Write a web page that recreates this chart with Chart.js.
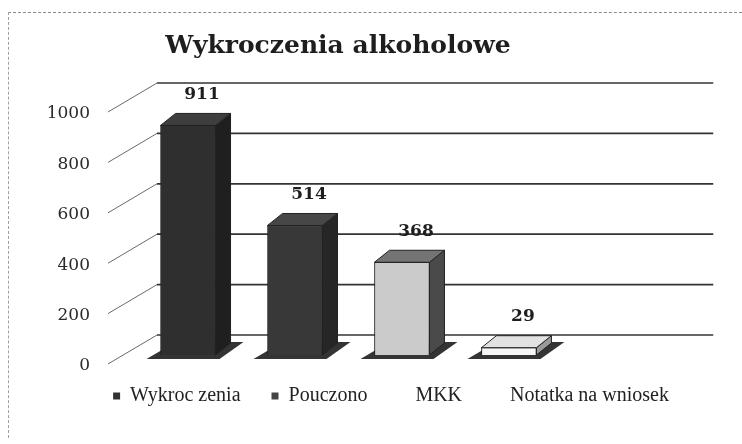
<!DOCTYPE html>
<html>
<head>
<meta charset="utf-8">
<script src="https://cdn.jsdelivr.net/npm/chart.js"></script>
<style>
  body { margin: 0; background: #fff; }
  #wrap { position: relative; width: 742px; height: 444px; }
  #frame { position: absolute; left: 8px; top: 12px; width: 733px; height: 425px;
           border-top: 1px dashed #8a8a8a; border-left: 1px dashed #a0a0a0; pointer-events: none; }
</style>
</head>
<body>
<div id="wrap">
  <canvas id="chart"></canvas>
  <div id="frame"></div>
</div>
<script>
// dane z wykresu
const categories = ['Wykroc zenia', 'Pouczono', 'MKK', 'Notatka na wniosek'];
const values = [911, 514, 368, 29];
const yTicks = [0, 200, 400, 600, 800, 1000];

// kolory ścian słupków (przód, bok, góra)
const frontColors = ['#2f2f2f', '#383838', '#cbcbcb', '#f7f7f7'];
const sideColors = ['#1f1f1f', '#262626', '#4a4a4a', '#9a9a9a'];
const topColors = ['#3e3e3e', '#474747', '#747474', '#e2e2e2'];
const legendBoxColors = ['#333333', '#444444', 'rgba(0,0,0,0)', 'rgba(0,0,0,0)'];

const depth = { dx: 15, dy: -12 };          // głębokość słupków 3D
const wall = { from: -0.29, to: 4.91, dy: -20 }; // tylna ściana (w jednostkach osi x)

const bars3d = {
    id: 'bars3d',
    beforeDatasetsDraw(chart) {
        const { ctx, chartArea, scales: { x, y } } = chart;
        const xl = x.getPixelForValue(wall.from);
        const xr = x.getPixelForValue(wall.to);
        ctx.save();
        y.ticks.forEach(t => {
            const yf = y.getPixelForValue(t.value);
            const yb = yf + wall.dy;
            ctx.strokeStyle = '#6a6a6a';
            ctx.lineWidth = 1;
            ctx.beginPath();
            ctx.moveTo(chartArea.left - 12, yf + 9);
            ctx.lineTo(xl, yb);
            ctx.stroke();
            ctx.strokeStyle = '#333';
            ctx.lineWidth = 1.7;
            ctx.beginPath();
            ctx.moveTo(xl, yb);
            ctx.lineTo(xr, yb);
            ctx.stroke();
        });
        // cień pod słupkami
        chart.getDatasetMeta(0).data.forEach(bar => {
            const p = bar.getProps(['x', 'base', 'width'], true);
            const x0 = p.x - p.width / 2, x1 = p.x + p.width / 2, b = p.base;
            ctx.fillStyle = 'rgba(35,35,35,0.92)';
            ctx.beginPath();
            ctx.moveTo(x0 - 14, b + 4);
            ctx.lineTo(x1 + 4, b + 4);
            ctx.lineTo(x1 + depth.dx + 13, b + depth.dy - 1);
            ctx.lineTo(x0 + depth.dx, b + depth.dy - 1);
            ctx.closePath();
            ctx.fill();
        });
        ctx.restore();
    },
    afterDatasetsDraw(chart) {
        const { ctx } = chart;
        ctx.save();
        chart.getDatasetMeta(0).data.forEach((bar, i) => {
            const p = bar.getProps(['x', 'y', 'base', 'width'], true);
            const x0 = p.x - p.width / 2, x1 = p.x + p.width / 2;
            ctx.strokeStyle = '#222';
            ctx.lineWidth = 1;
            // bok
            ctx.fillStyle = sideColors[i];
            ctx.beginPath();
            ctx.moveTo(x1, p.y);
            ctx.lineTo(x1 + depth.dx, p.y + depth.dy);
            ctx.lineTo(x1 + depth.dx, p.base + depth.dy);
            ctx.lineTo(x1, p.base);
            ctx.closePath();
            ctx.fill();
            ctx.stroke();
            // góra
            ctx.fillStyle = topColors[i];
            ctx.beginPath();
            ctx.moveTo(x0, p.y);
            ctx.lineTo(x0 + depth.dx, p.y + depth.dy);
            ctx.lineTo(x1 + depth.dx, p.y + depth.dy);
            ctx.lineTo(x1, p.y);
            ctx.closePath();
            ctx.fill();
            ctx.stroke();
            // etykieta wartości
            ctx.fillStyle = '#1e1e1e';
            ctx.font = 'bold 17px "DejaVu Serif"';
            ctx.textAlign = 'center';
            ctx.textBaseline = 'middle';
            ctx.fillText(String(values[i]), p.x + 14, p.y + depth.dy - 19);
        });
        ctx.restore();
    }
};

const ctx = document.getElementById('chart').getContext('2d');
new Chart(ctx, {
    type: 'bar',
    data: {
        labels: categories,
        datasets: [{
            data: values.map((v, i) => ({ x: i, y: v })),
            backgroundColor: frontColors,
            borderColor: '#222',
            borderWidth: 1,
            barThickness: 55
        }]
    },
    options: {
        responsive: true,
        maintainAspectRatio: false,
        animation: false,
        layout: { padding: { top: 15, left: 40, right: 0, bottom: 28 } },
        scales: {
            x: {
                type: 'linear',
                display: false,
                offset: false,
                min: -0.636,
                max: 3.44
            },
            y: {
                min: 0,
                max: 1000,
                afterBuildTicks: axis => { axis.ticks = yTicks.map(v => ({ value: v })); },
                afterFit: axis => { axis.width = 80; },
                grid: { display: false, drawTicks: false },
                border: { display: false },
                ticks: {
                    padding: 30,
                    labelOffset: 11,
                    color: '#2a2a2a',
                    font: { family: 'DejaVu Serif', size: 17 },
                    callback: v => String(v)
                }
            },
            y2: {
                position: 'right',
                afterFit: axis => { axis.width = 186; },
                grid: { display: false, drawTicks: false },
                border: { display: false },
                ticks: { display: false }
            }
        },
        plugins: {
            title: {
                display: true,
                text: 'Wykroczenia alkoholowe',
                fullSize: false,
                color: '#1e1e1e',
                font: { family: 'DejaVu Serif', size: 25, weight: 'bold' },
                padding: { top: 16, bottom: 42 }
            },
            legend: {
                position: 'bottom',
                onClick: null,
                labels: {
                    boxWidth: 7,
                    boxHeight: 7,
                    padding: 31,
                    color: '#222',
                    font: { family: 'Liberation Serif', size: 20 },
                    generateLabels: () => categories.map((c, i) => ({
                        text: c,
                        fillStyle: legendBoxColors[i],
                        strokeStyle: legendBoxColors[i],
                        lineWidth: 0,
                        fontColor: '#222',
                        hidden: false,
                        index: i,
                        datasetIndex: 0
                    }))
                }
            },
            tooltip: { enabled: false }
        }
    },
    plugins: [bars3d]
});
</script>
</body>
</html>
